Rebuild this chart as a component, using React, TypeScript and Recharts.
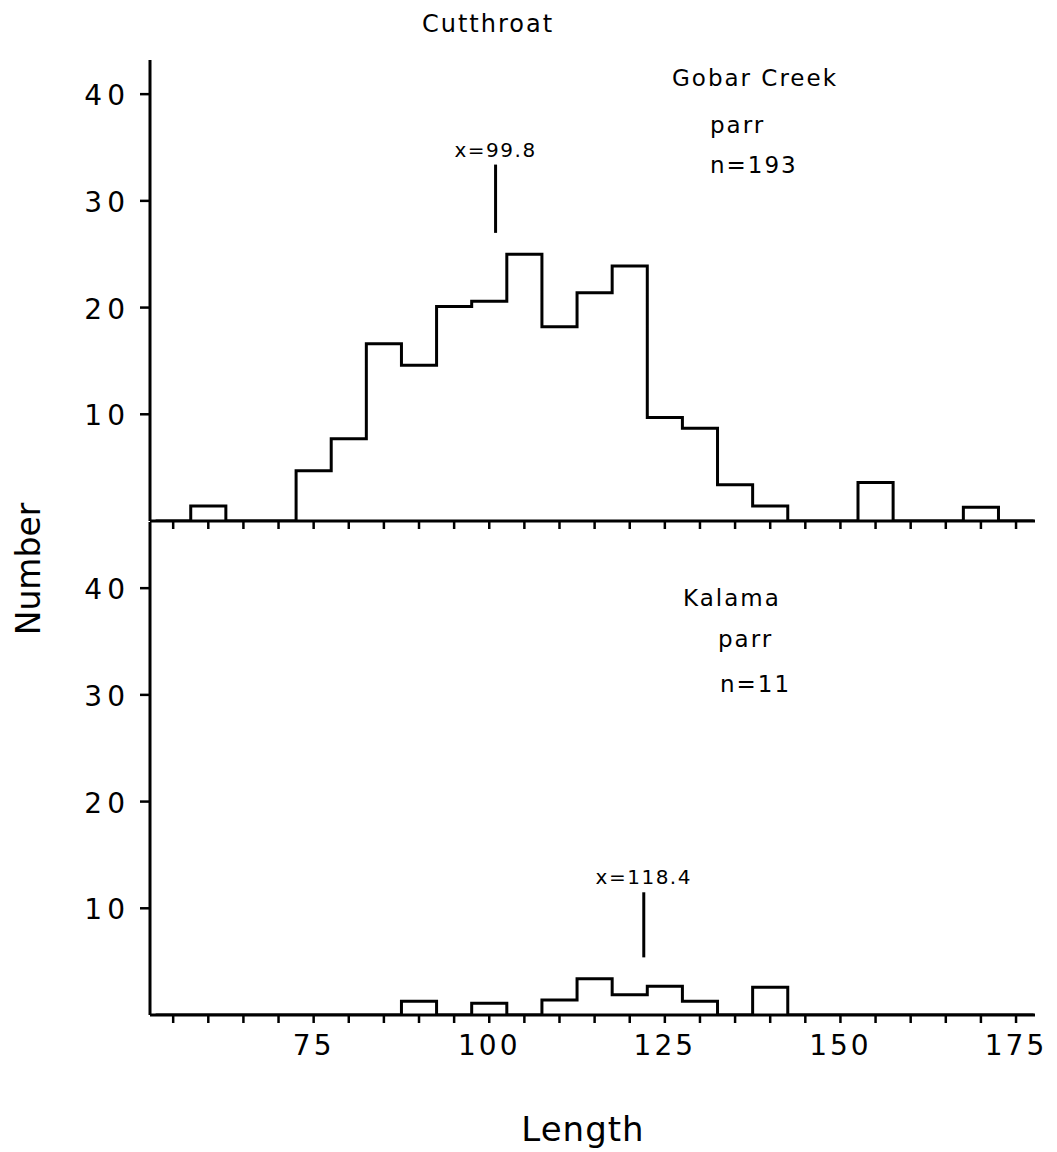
import React from 'react';
import { LineChart, Line, XAxis, YAxis, ReferenceLine } from 'recharts';

// Histogram bin centres (length, mm), 5 mm wide bins
const BIN_CENTERS = [55, 60, 65, 70, 75, 80, 85, 90, 95, 100, 105, 110, 115, 120, 125, 130, 135, 140, 145, 150, 155, 160, 165, 170, 175];
// Gobar Creek parr counts per bin
const GOBAR_COUNTS = [0, 1.4, 0, 0, 4.7, 7.7, 16.6, 14.6, 20.1, 20.6, 25.0, 18.2, 21.4, 23.9, 9.7, 8.7, 3.4, 1.4, 0, 0, 3.6, 0, 0, 1.3, 0];
// Kalama parr counts per bin
const KALAMA_COUNTS = [0, 0, 0, 0, 0, 0, 0, 1.3, 0, 1.1, 0, 1.4, 3.4, 1.9, 2.7, 1.3, 0, 2.6, 0, 0, 0, 0, 0, 0, 0];

const X_TICKS = [55, 60, 65, 70, 75, 80, 85, 90, 95, 100, 105, 110, 115, 120, 125, 130, 135, 140, 145, 150, 155, 160, 165, 170, 175];
const X_TICK_LABELS = [75, 100, 125, 150, 175];
const Y_TICKS = [10, 20, 30, 40];

// Mean markers: [x position, line bottom, line top]
const GOBAR_MEAN = { label: 'x=99.8', x: 100.9, y0: 27.0, y1: 33.4 };
const KALAMA_MEAN = { label: 'x=118.4', x: 122.0, y0: 5.4, y1: 11.5 };

const X_DOMAIN = [51.7, 177.7];
const FONT = '"DejaVu Sans", "Liberation Sans", sans-serif';

function stepData(centers: number[], counts: number[]) {
  const pts: { x: number; y: number }[] = [{ x: centers[0] - 2.5, y: 0 }];
  centers.forEach((c, i) => pts.push({ x: c - 2.5, y: counts[i] }));
  pts.push({ x: centers[centers.length - 1] + 2.5, y: 0 });
  return pts;
}

const gobarData = stepData(BIN_CENTERS, GOBAR_COUNTS);
const kalamaData = stepData(BIN_CENTERS, KALAMA_COUNTS);

const YTick = (props: any) => {
  const { x, y, payload } = props;
  return (
    <text x={x} y={y} dy={11} textAnchor="end" fontSize={28} fontFamily={FONT} fill="#000" letterSpacing={5}>
      {payload.value}
    </text>
  );
};

const EmptyTick = () => <g />;

const XLabelTick = (props: any) => {
  const { x, y, payload } = props;
  if (!X_TICK_LABELS.includes(payload.value)) return <g />;
  return (
    <text x={x} y={y + 30} textAnchor="middle" fontSize={28} fontFamily={FONT} fill="#000" letterSpacing={3}>
      {payload.value}
    </text>
  );
};

const axisLine = { stroke: '#000', strokeWidth: 3 };
const tickLine = { stroke: '#000', strokeWidth: 2.5 };
const meanLabel = { position: 'top', offset: 8, fill: '#000', fontSize: 20, fontFamily: FONT, letterSpacing: 1.5 };

export default function App() {
  return (
    <div style={{ position: 'absolute', left: 0, top: 0, width: 1057, height: 1152, background: '#fff' }}>
      <div style={{ position: 'absolute', left: 0, top: 0 }}>
        <LineChart width={1057} height={540} data={gobarData} margin={{ top: 60, right: 22, bottom: 0, left: 50 }}>
          <XAxis
            dataKey="x"
            type="number"
            domain={X_DOMAIN}
            allowDataOverflow
            ticks={X_TICKS}
            tick={<EmptyTick />}
            tickSize={8}
            height={19}
            axisLine={axisLine}
            tickLine={tickLine}
          />
          <YAxis
            type="number"
            domain={[0, 43.2]}
            allowDataOverflow
            ticks={Y_TICKS}
            tick={<YTick />}
            tickSize={10}
            tickMargin={10}
            width={100}
            axisLine={axisLine}
            tickLine={tickLine}
          />
          <Line type="stepAfter" dataKey="y" stroke="#000" strokeWidth={3} dot={false} isAnimationActive={false} />
          <ReferenceLine
            segment={[{ x: GOBAR_MEAN.x, y: GOBAR_MEAN.y0 }, { x: GOBAR_MEAN.x, y: GOBAR_MEAN.y1 }]}
            stroke="#000"
            strokeWidth={3}
            label={{ value: GOBAR_MEAN.label, ...meanLabel } as any}
          />
        </LineChart>
      </div>
      <div style={{ position: 'absolute', left: 0, top: 500 }}>
        <LineChart width={1057} height={652} data={kalamaData} margin={{ top: 22, right: 22, bottom: 77, left: 50 }}>
          <XAxis
            dataKey="x"
            type="number"
            domain={X_DOMAIN}
            allowDataOverflow
            ticks={X_TICKS}
            tick={<XLabelTick />}
            tickSize={8}
            height={60}
            axisLine={axisLine}
            tickLine={tickLine}
          />
          <YAxis
            type="number"
            domain={[0, 46.2]}
            allowDataOverflow
            ticks={Y_TICKS}
            tick={<YTick />}
            tickSize={10}
            tickMargin={10}
            width={100}
            axisLine={axisLine}
            tickLine={tickLine}
          />
          <Line type="stepAfter" dataKey="y" stroke="#000" strokeWidth={3} dot={false} isAnimationActive={false} />
          <ReferenceLine
            segment={[{ x: KALAMA_MEAN.x, y: KALAMA_MEAN.y0 }, { x: KALAMA_MEAN.x, y: KALAMA_MEAN.y1 }]}
            stroke="#000"
            strokeWidth={3}
            label={{ value: KALAMA_MEAN.label, ...meanLabel } as any}
          />
        </LineChart>
      </div>
      <svg width={1057} height={1152} style={{ position: 'absolute', left: 0, top: 0, pointerEvents: 'none' }}>
        <g fontFamily={FONT} fill="#000">
          <text x={488} y={32} textAnchor="middle" fontSize={24} letterSpacing={2}>Cutthroat</text>
          <text x={672} y={86} fontSize={23} letterSpacing={2}>Gobar Creek</text>
          <text x={710} y={133} fontSize={23} letterSpacing={2}>parr</text>
          <text x={710} y={173} fontSize={23} letterSpacing={2}>n=193</text>
          <text x={683} y={606} fontSize={23} letterSpacing={2}>Kalama</text>
          <text x={718} y={647} fontSize={23} letterSpacing={2}>parr</text>
          <text x={720} y={692} fontSize={23} letterSpacing={2}>n=11</text>
          <text x={583} y={1141} textAnchor="middle" fontSize={34} letterSpacing={1}>Length</text>
          <text x={40} y={569} textAnchor="middle" fontSize={33} transform="rotate(-90 40 569)">Number</text>
        </g>
      </svg>
    </div>
  );
}
